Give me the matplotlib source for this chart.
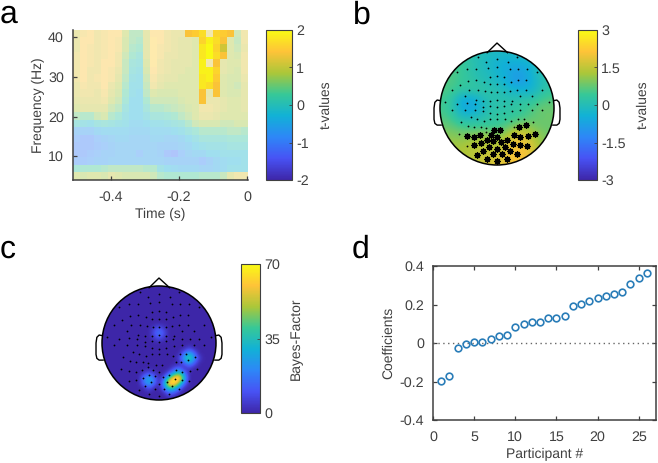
import numpy as np
import matplotlib
matplotlib.use('Agg')
import matplotlib.pyplot as plt
from matplotlib.colors import LinearSegmentedColormap, Normalize
from matplotlib.cm import ScalarMappable
from matplotlib.patches import Circle

plt.rcParams['font.family'] = ['Liberation Sans', 'DejaVu Sans']
plt.rcParams['font.size'] = 10
plt.rcParams['text.color'] = '#404040'
plt.rcParams['axes.labelcolor'] = '#404040'
plt.rcParams['xtick.labelcolor'] = '#404040'
plt.rcParams['ytick.labelcolor'] = '#404040'
plt.rcParams['text.hinting'] = 'none'

W, H = 658, 463

parula = LinearSegmentedColormap.from_list('parula', [
    (0.2422, 0.1504, 0.6603), (0.2810, 0.3228, 0.9579), (0.1786, 0.5289, 0.9682),
    (0.0689, 0.6948, 0.8394), (0.2161, 0.7843, 0.5923), (0.6720, 0.7793, 0.2227),
    (0.9970, 0.7659, 0.2199), (0.9769, 0.9839, 0.0805)])

# panel a, t-values, top row = highest frequency
tf_values = [
    [1.1,1.3,1.4,1.2,1.3,1.4,1.4,.9,.5,.5,1.0,1.4,1.4,1.2,1.1,1.1,1.4,1.5,1.7,1.2,1.6,1.5,1.4,.7,1.2],
    [1.1,1.4,1.4,1.2,1.3,1.4,1.3,.8,.5,.4,1.0,1.5,1.4,1.2,1.1,1.0,1.0,.9,1.6,1.9,1.7,1.4,.9,.6,1.2],
    [1.1,1.4,1.3,1.2,1.3,1.4,1.3,.8,.4,.3,1.0,1.5,1.3,1.2,1.1,1.0,1.0,.9,1.8,2.0,1.6,1.1,.9,.7,1.1],
    [1.2,1.4,1.3,1.2,1.3,1.4,1.2,.7,.3,.1,1.0,1.5,1.3,1.1,1.1,1.0,1.0,.9,1.8,2.0,1.7,1.4,.9,.8,1.2],
    [1.2,1.4,1.3,1.2,1.4,1.4,1.2,.6,.1,0,.9,1.5,1.2,1.1,1.0,1.0,1.0,.9,1.9,1.2,1.4,1.0,.9,.9,1.2],
    [1.2,1.4,1.2,1.2,1.4,1.3,1.1,.6,0,-.1,.8,1.4,1.2,1.1,1.0,1.0,.9,.9,1.9,1.9,1.6,1.0,.9,.8,1.2],
    [1.2,1.4,1.2,1.3,1.4,1.3,1.0,.5,-.1,-.2,.7,1.3,1.1,1.0,1.0,.9,.9,.9,1.8,1.9,1.5,.9,.8,.8,1.1],
    [1.1,1.3,1.2,1.2,1.4,1.1,.9,.4,-.2,-.2,.6,1.2,1.0,.9,.9,.9,.9,.9,1.8,1.7,1.4,.9,.8,.7,1.0],
    [1.1,1.2,1.2,1.1,1.3,1.0,.8,.3,-.2,-.3,.5,.9,.8,.8,.8,.9,.9,.9,1.4,1.0,1.4,.9,.8,.8,1.0],
    [1.0,1.1,1.1,1.1,1.2,.9,.7,.2,-.3,-.3,.3,.7,.7,.7,.7,.8,.9,.9,1.4,1.1,1.1,1.0,.9,.9,1.0],
    [.9,1.0,1.0,1.0,1.0,.7,.5,0,-.3,-.3,.1,.4,.4,.5,.6,.7,.8,.9,1.2,1.2,1.1,1.0,.9,.9,1.0],
    [.5,.4,.4,.7,.8,.4,.2,-.1,-.3,-.3,-.1,.1,.1,.2,.3,.5,.7,.9,1.1,1.1,1.0,.9,.9,.9,.9],
    [0,-.1,-.2,0,.1,0,-.1,-.2,-.4,-.4,-.3,-.2,-.2,-.1,0,.1,.4,.7,.8,.8,.8,.7,.7,.8,.8],
    [-.7,-.7,-.7,-.5,-.4,-.4,-.4,-.4,-.5,-.5,-.5,-.4,-.4,-.4,-.3,-.2,0,.2,.4,.4,.4,.4,.5,.5,.4],
    [-.9,-1,-1,-.8,-.7,-.6,-.5,-.5,-.6,-.6,-.6,-.5,-.5,-.6,-.6,-.5,-.3,-.1,.1,.1,.1,.1,.2,.2,.2],
    [-1,-1,-1,-.9,-.8,-.7,-.6,-.6,-.6,-.6,-.6,-.6,-.7,-.7,-.7,-.6,-.5,-.3,-.2,-.1,-.1,-.1,0,0,0],
    [-1,-1,-.9,-.8,-.7,-.7,-.6,-.6,-.6,-.8,-.6,-.6,-.7,-1.0,-1.1,-.8,-.6,-.5,-.5,-.3,-.3,-.2,-.2,-.2,-.2],
    [-.9,-.9,-.8,-.7,-.7,-.6,-.6,-.6,-.6,-.6,-.6,-.6,-.6,-.7,-.7,-.7,-.7,-.7,-.9,-.7,-.5,-.4,-.3,-.3,-.2],
    [.2,.3,.3,.3,.4,.5,.5,.5,.5,.5,.4,.4,-.1,-.3,-.4,-.5,-.5,-.5,-.6,-.6,-.5,-.4,-.2,-.2,-.2],
    [.9,.8,.9,.9,.8,1.0,.9,.8,.8,.8,.8,.7,.4,.3,.3,.3,.3,.3,.4,.4,.4,.6,1.0,1.2,1.2],
]
# runs of cells drawn solid: row from the top, first col, last col
sig_rows = [0,0,1,2,3,4,4,5,6,7,8,8,9]
sig_from = [16,20,18,18,18,18,20,18,18,18,18,20,18]
sig_to = [18,22,21,21,21,18,20,20,20,20,18,20,18]

# panel b, t-values on a coarse scalp grid, top row = front of the head
topo_t = [
    [.5,.5,.4,.1,0,-.1,-.2,-.2,-.2,-.1,.1,.3,.3],
    [.5,.5,.5,.2,0,-.2,-.4,-.5,-.5,-.5,-.3,.1,.2],
    [.6,.6,.4,.2,0,-.1,-.3,-.5,-.8,-.7,-.3,.1,.2],
    [.6,.6,.4,.3,.1,0,-.2,-.4,-.9,-.8,-.4,0,.2],
    [.6,.5,.3,.3,.3,.2,.1,-.1,-.3,-.4,-.3,.1,.3],
    [.5,.2,-.5,-.6,-.3,.1,.1,.1,.1,.2,.2,.5,.6],
    [.5,.2,-.5,-.7,-.4,.1,.2,.2,.3,.4,.6,.8,.8],
    [.6,.4,-.1,-.1,0,.2,.3,.3,.4,.5,.7,.8,.8],
    [.8,.7,.5,.4,.4,.4,.4,.6,.9,1.1,.9,.8,.8],
    [1.0,1.0,.9,1,1.1,1.1,1,1.2,1.7,1.8,1.3,1,.8],
    [1.2,1.2,1.2,1.3,1.4,1.4,1.3,1.6,2.0,2.0,1.6,1.1,.9],
    [1.3,1.3,1.3,1.4,1.5,1.5,1.5,1.8,2.1,2.1,1.8,1.2,1],
    [1.3,1.3,1.3,1.4,1.5,1.7,1.8,1.9,2.1,2.0,1.8,1.3,1],
]

# panel c, bayes factors above zero on a 23x23 scalp grid
bf_row = [9,8,10,9,9,8,8,10,10,
          14,13,15,14,14,13,13,15,15,12,16,14,14,
          18,19,18,19,18,19,17,20,17,17,
          17,17,17,18,18,18,18,19,19,19,19,19,20,20,20,20,16,16,18,21,21,17]
bf_col = [11,11,11,10,12,10,12,10,12,
          17,17,17,16,18,16,18,16,18,17,17,15,19,
          9,9,8,8,10,10,9,9,8,10,
          14,15,16,13,14,15,16,12,13,14,15,16,12,13,14,15,15,14,12,13,14,13]
bf_val = [19,10,10,10,10,4,4,4,4,
          46,28,24,28,24,14,14,12,12,6,6,6,6,
          30,27,18,16,18,16,10,10,4,4,
          28,42,20,42,70,70,34,24,70,70,46,14,14,36,32,14,14,7,12,12,8,10]

# electrodes (picture units, centre 290,265, radius 172)
small_x = [233,257,291,322,349,170,200,228,262,291,328,352,381,411,203,228,250,270,291,311,332,353,378,
           178,270,291,311,155,205,232,253,272,291,310,330,350,377,425,192,228,248,270,291,311,335,358,395,
           133,170,200,225,248,270,291,311,332,358,385,410,447,154,192,225,248,270,291,311,335,358,395,427,
           180,212,230,250,268,291,313,332,352,370,400,203,222,242,258,340,174,200,258]
small_y = [111,125,117,125,111,157,146,147,143,141,148,147,147,157,183,181,187,170,168,170,187,180,182,
           196,193,194,193,212,210,210,215,218,217,218,215,210,210,212,228,240,243,243,240,243,243,230,230,
           246,253,250,252,262,258,262,258,253,253,253,253,246,270,272,270,275,280,283,280,275,270,272,270,
           306,291,298,303,297,298,297,303,298,298,306,320,322,322,326,322,342,380,338]
star_x = [282,299,357,379,406,198,220,240,273,291,259,340,360,385,222,243,278,301,321,337,359,381,
          267,291,315,249,229,277,304,329,351,260,291,320]
star_y = [330,330,322,317,342,349,351,346,347,351,361,347,351,349,378,372,366,368,361,373,378,381,
          382,388,383,396,406,404,404,396,404,420,425,420]

# panel d
participants = list(range(1, 27))
coefficients = [-.195,-.169,-.024,-.003,.003,.007,.02,.034,.043,.081,.097,.107,.11,
                .129,.131,.141,.191,.205,.22,.234,.245,.253,.264,.309,.34,.365]

nose_x = [-.174, 0, .186]
nose_y = [.97, 1.14, .97]
ear_x = [1.0, 1.05, 1.09, 1.105, 1.105, 1.09, 1.05, .98]
ear_y = [.13, .14, .10, 0, -.2, -.27, -.3, -.3]


def px_axes(left, top, right, bottom):
    return fig.add_axes([left / W, 1 - bottom / H, (right - left) / W, (bottom - top) / H])


def style(ax):
    for s in ax.spines.values():
        s.set_color('#404040')
        s.set_linewidth(1.1)
    ax.tick_params(direction='in', length=3, width=0.9, color='#404040', labelsize=10.3)
    ax.tick_params(axis='x', pad=7.5)
    ax.tick_params(axis='y', pad=6.5)


def colorbar(box, vmin, vmax, ticks, labels, label, labelx):
    cax = px_axes(*box)
    cb = fig.colorbar(ScalarMappable(Normalize(vmin, vmax), parula), cax=cax)
    cb.set_ticks(ticks, labels=labels)
    cb.ax.tick_params(direction='in', length=2, width=0.6, color='#404040', pad=3, labelsize=10.3)
    cb.outline.set_edgecolor('#404040')
    cb.outline.set_linewidth(0.8)
    cb.set_label(label, fontsize=10, labelpad=labelx)


def topo(cx, cy, values, vmin, vmax):
    half = 72
    ax = px_axes(cx - half, cy - half, cx + half, cy + half)
    r = half / 57
    ax.set_xlim(-r, r)
    ax.set_ylim(-r, r)
    ax.axis('off')
    im = ax.imshow(values, cmap=parula, vmin=vmin, vmax=vmax, extent=[-1.01, 1.01, -1.01, 1.01],
                   interpolation='bicubic', origin='upper')
    im.set_clip_path(Circle((0, 0), 1, transform=ax.transData))
    ax.add_patch(Circle((0, 0), 1, fill=False, ec='black', lw=1.1))
    ax.plot(nose_x, nose_y, color='black', lw=1.0)
    ax.plot(ear_x, ear_y, color='black', lw=1.0)
    ax.plot(-np.array(ear_x), ear_y, color='black', lw=1.0)
    return ax


def sensors(ax, xs, ys, **kw):
    ax.plot((np.array(xs) - 290) / 172, (265 - np.array(ys)) / 172, ls='none', color='black', **kw)


fig = plt.figure(figsize=(W / 100, H / 100), dpi=100)

# a
ax = px_axes(73, 30, 248, 180)
tf = np.array(tf_values)
alpha = np.full(tf.shape, 0.4)
for r, c0, c1 in zip(sig_rows, sig_from, sig_to):
    alpha[r, c0:c1 + 1] = 1.0
ax.imshow(tf, cmap=parula, vmin=-2, vmax=2, alpha=alpha, aspect='auto',
          extent=[-0.51, 0.003, 4, 41.8], interpolation='nearest')
ax.set_xlim(-0.51, 0.003)
ax.set_ylim(4, 41.8)
ax.set_xticks([-0.4, -0.2, 0], labels=['-0.4', '-0.2', '0'])
ax.set_yticks([10, 20, 30, 40])
ax.set_xlabel('Time (s)', fontsize=10, labelpad=3)
ax.set_ylabel('Frequency (Hz)', fontsize=10, labelpad=2)
style(ax)
ax.spines['top'].set_visible(False)
ax.spines['right'].set_visible(False)
colorbar((266, 30, 292, 180), -2, 2, [-2, -1, 0, 1, 2], ['-2', '-1', '0', '1', '2'], 't-values', 8)

# b
ax = topo(497, 108, topo_t, -3, 3)
sensors(ax, small_x, small_y, marker='o', ms=1.3, mew=0)
sensors(ax, star_x, star_y, marker=(8, 2, 0), ms=4.6, mew=0.9)
colorbar((578, 30, 597, 180), -3, 3, [-3, -1.5, 0, 1.5, 3], ['-3', '-1.5', '0', '1.5', '3'], 't-values', 8)

# c
bf = np.zeros((23, 23))
bf[bf_row, bf_col] = bf_val
ax = topo(159, 343, bf, 0, 70)
sensors(ax, small_x + star_x, small_y + star_y, marker='o', ms=1.3, mew=0)
colorbar((241, 264, 260, 413), 0, 70, [0, 35, 70], ['0', '35', '70'], 'Bayes-Factor', 7)

# d
ax = px_axes(433, 266, 656, 420)
ax.axhline(0, color='#666666', lw=1.0, ls=(0, (1, 2.5)))
ax.plot(participants, coefficients, ls='none', marker='o', ms=4.8, mfc='none', mec='#2a7db8', mew=1.2, clip_on=False)
ax.set_xlim(0, 27.1)
ax.set_ylim(-0.4, 0.4)
ax.set_xticks([0, 5, 10, 15, 20, 25])
ax.set_yticks([-0.4, -0.2, 0, 0.2, 0.4], labels=['-0.4', '-0.2', '0', '0.2', '0.4'])
ax.set_xlabel('Participant #', fontsize=10, labelpad=3)
ax.set_ylabel('Coefficients', fontsize=10, labelpad=3)
style(ax)
ax.tick_params(top=True, right=True)

for s, x, y in [('a', 0, 23), ('b', 353, 24), ('c', 0, 258), ('d', 352, 258)]:
    fig.text(x / W, 1 - y / H, s, fontsize=23, color='black', va='baseline', ha='left')

fig.savefig('out.png', dpi=100)
